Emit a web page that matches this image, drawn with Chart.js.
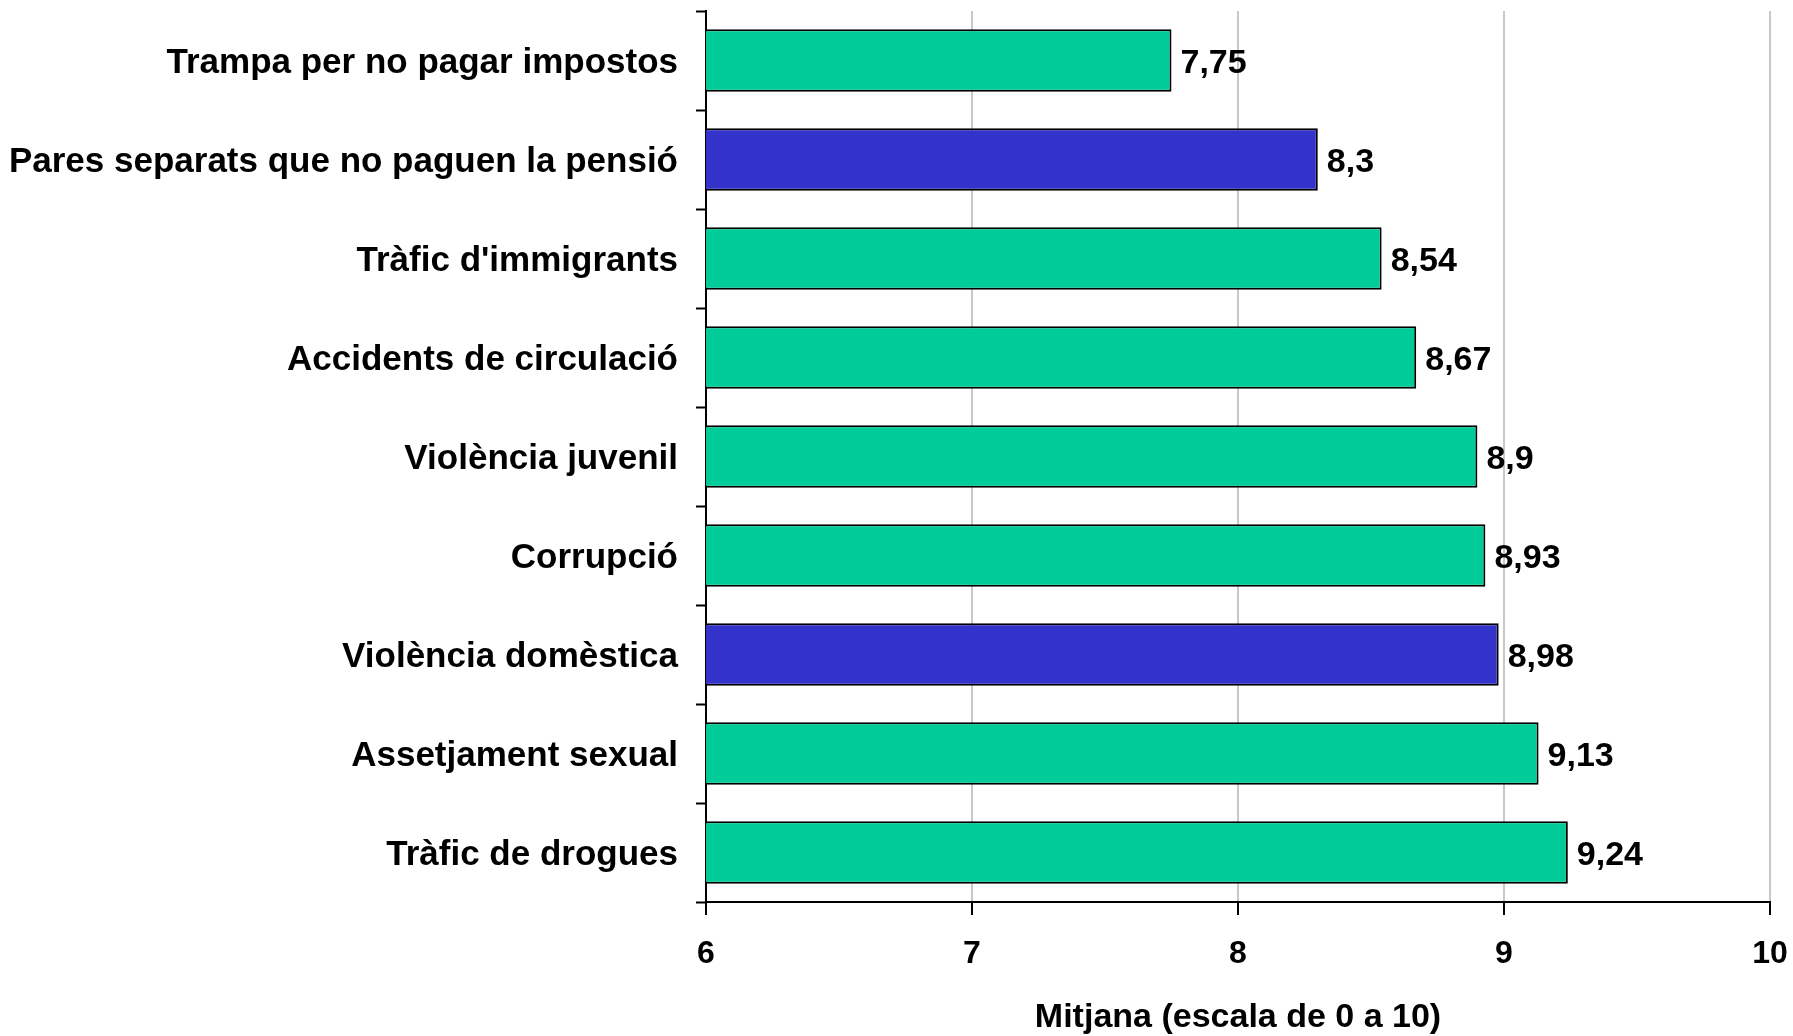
<!DOCTYPE html>
<html>
<head>
<meta charset="utf-8">
<script src="https://cdn.jsdelivr.net/npm/chart.js@4.4.0/dist/chart.umd.min.js"></script>
<style>
  html, body { margin: 0; padding: 0; background: #ffffff; }
  #wrap { width: 1793px; height: 1036px; position: relative; }
</style>
</head>
<body>
<div id="wrap"><canvas id="c" width="1793" height="1036"></canvas></div>
<script>
const categories = [
  "Trampa per no pagar impostos",
  "Pares separats que no paguen la pensió",
  "Tràfic d'immigrants",
  "Accidents de circulació",
  "Violència juvenil",
  "Corrupció",
  "Violència domèstica",
  "Assetjament sexual",
  "Tràfic de drogues"
];
const values = [7.75, 8.3, 8.54, 8.67, 8.9, 8.93, 8.98, 9.13, 9.24];
const highlighted = [false, true, false, false, false, false, true, false, false];
const xTicks = [6, 7, 8, 9, 10];
const xTitle = "Mitjana (escala de 0 a 10)";

const GREEN = "#00CC99";
const BLUE = "#3333CC";
const FONT = "'Liberation Sans', Arial, sans-serif";

const valueLabels = {
  id: 'valueLabels',
  afterDatasetsDraw(chart) {
    const ctx = chart.ctx;
    const meta = chart.getDatasetMeta(0);
    ctx.save();
    ctx.font = "bold 34px " + FONT;
    ctx.fillStyle = "#000";
    ctx.textAlign = "left";
    ctx.textBaseline = "middle";
    meta.data.forEach((bar, i) => {
      const txt = String(values[i]).replace('.', ',');
      ctx.fillText(txt, bar.x + 9, bar.y + 3);
    });
    ctx.restore();
  }
};

function zeroPad(scale) {
  scale.paddingTop = 0; scale.paddingBottom = 0;
  scale.paddingLeft = 0; scale.paddingRight = 0;
}

new Chart(document.getElementById('c'), {
  type: 'bar',
  data: {
    labels: categories,
    datasets: [{
      data: values,
      backgroundColor: highlighted.map(h => h ? BLUE : GREEN),
      borderColor: "#000",
      borderWidth: 2,
      borderSkipped: false,
      barPercentage: 0.63,
      categoryPercentage: 1.0
    }]
  },
  options: {
    indexAxis: 'y',
    responsive: false,
    animation: false,
    devicePixelRatio: 1,
    layout: { padding: { left: 0, right: 23, top: 11, bottom: 0 } },
    plugins: { legend: { display: false }, tooltip: { enabled: false } },
    scales: {
      x: {
        min: 6, max: 10,
        afterBuildTicks(scale) { scale.ticks = xTicks.map(v => ({ value: v })); },
        afterFit(scale) { scale.height = 134; zeroPad(scale); },
        grid: {
          color: "#c8c8c8",
          lineWidth: 2,
          tickColor: "#000",
          tickWidth: 2,
          tickLength: 13,
          drawTicks: true
        },
        border: { display: true, color: "#000", width: 2 },
        ticks: {
          color: "#000",
          font: { family: FONT, size: 32, weight: 'bold' },
          padding: 20,
          maxRotation: 0
        },
        title: {
          display: true,
          text: xTitle,
          color: "#000",
          font: { family: FONT, size: 34, weight: 'bold' },
          padding: { top: 0, bottom: -2 }
        }
      },
      y: {
        afterFit(scale) { scale.width = 706; zeroPad(scale); },
        grid: {
          offset: true,
          drawOnChartArea: false,
          tickColor: "#000",
          tickWidth: 2,
          tickLength: 10
        },
        border: { display: true, color: "#000", width: 2 },
        ticks: {
          color: "#000",
          font: { family: FONT, size: 35, weight: 'bold' },
          padding: 18,
          labelOffset: 3,
          autoSkip: false
        }
      }
    }
  },
  plugins: [valueLabels]
});
</script>
</body>
</html>
